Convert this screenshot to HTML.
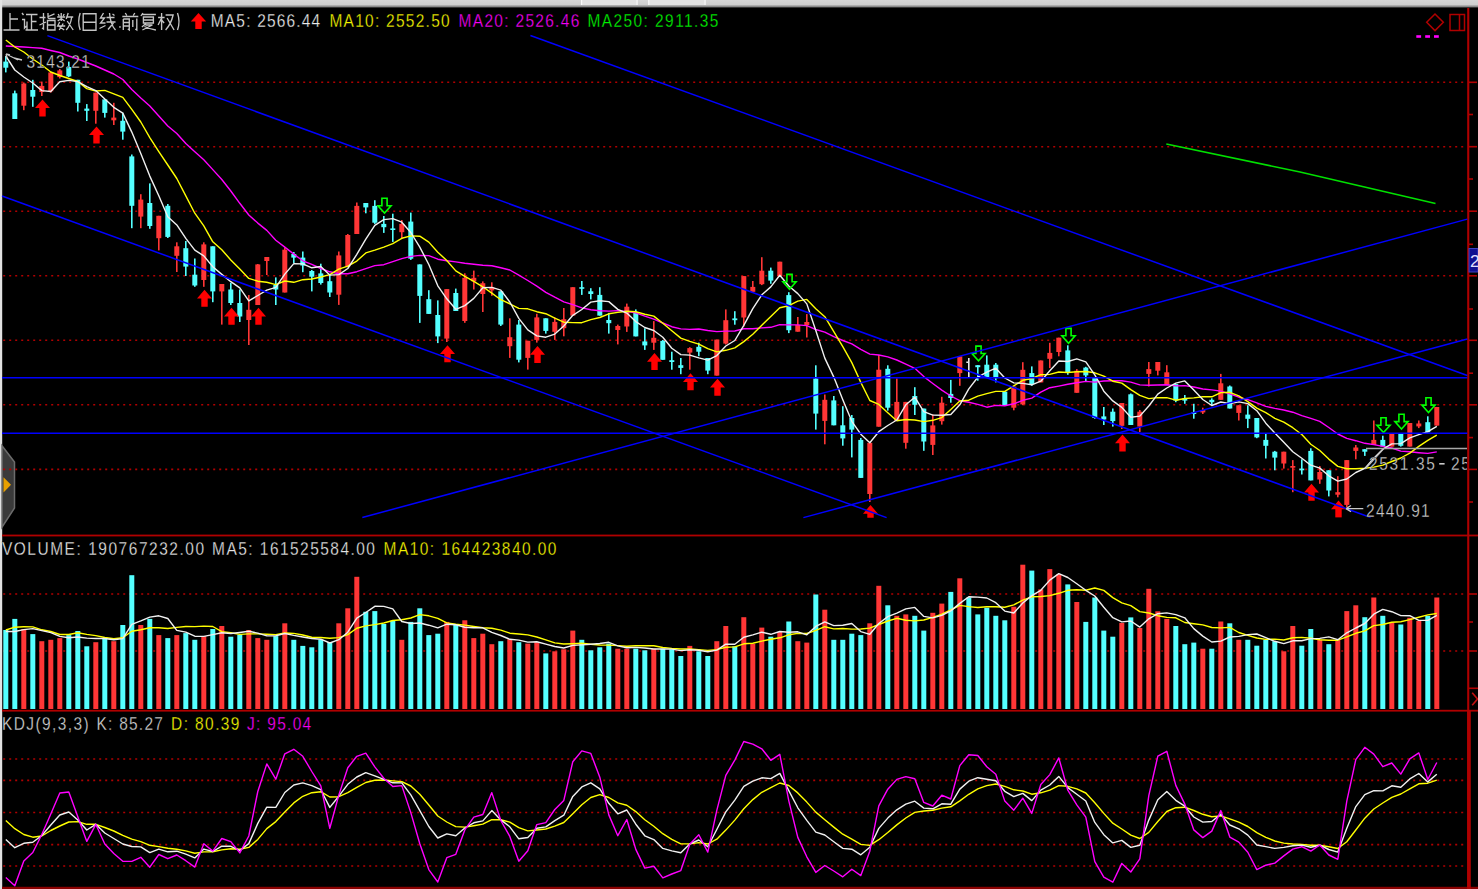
<!DOCTYPE html><html><head><meta charset="utf-8"><style>html,body{margin:0;padding:0;background:#000;overflow:hidden}svg{display:block}text{font-family:"Liberation Sans",sans-serif}</style></head><body>
<svg width="1478" height="889" viewBox="0 0 1478 889">
<rect width="1478" height="889" fill="#000"/>
<defs><linearGradient id="tg" x1="0" y1="0" x2="0" y2="1"><stop offset="0" stop-color="#d6d6d6"/><stop offset="0.6" stop-color="#cfcfcf"/><stop offset="1" stop-color="#6a6a6a"/></linearGradient></defs>
<rect x="0" y="0" width="1478" height="7.5" fill="url(#tg)"/>
<rect x="581.6" y="0" width="55.4" height="5" fill="#e2e2e2"/><rect x="648.7" y="0" width="56.3" height="5" fill="#e2e2e2"/>
<rect x="581" y="0" width="1.2" height="5" fill="#fafafa"/><rect x="636.5" y="0" width="1.2" height="5" fill="#fafafa"/><rect x="648.2" y="0" width="1.2" height="5" fill="#fafafa"/><rect x="704.5" y="0" width="1.2" height="5" fill="#fafafa"/>
<rect x="0" y="0" width="2.2" height="889" fill="#e2e2e2"/>
<path d="M2 445.7 L14.5 462 L14.5 508 L2 527.2 Z" fill="#3a3a3a" stroke="#6c6c6c" stroke-width="1.5"/>
<path d="M3.5 477.2 L11 484.8 L3.5 492.4 Z" fill="#e8a000"/>
<line x1="3.2" y1="82.3" x2="1466" y2="82.3" stroke="#b00000" stroke-width="1.6" stroke-dasharray="2 4" stroke-dashoffset="0"/>
<line x1="3.2" y1="146.7" x2="1466" y2="146.7" stroke="#b00000" stroke-width="1.6" stroke-dasharray="2 4" stroke-dashoffset="0"/>
<line x1="3.2" y1="211.2" x2="1466" y2="211.2" stroke="#b00000" stroke-width="1.6" stroke-dasharray="2 4" stroke-dashoffset="0"/>
<line x1="3.2" y1="275.8" x2="1466" y2="275.8" stroke="#b00000" stroke-width="1.6" stroke-dasharray="2 4" stroke-dashoffset="0"/>
<line x1="3.2" y1="340.3" x2="1466" y2="340.3" stroke="#b00000" stroke-width="1.6" stroke-dasharray="2 4" stroke-dashoffset="0"/>
<line x1="3.2" y1="404.8" x2="1466" y2="404.8" stroke="#b00000" stroke-width="1.6" stroke-dasharray="2 4" stroke-dashoffset="0"/>
<line x1="3.2" y1="469.4" x2="1466" y2="469.4" stroke="#b00000" stroke-width="1.6" stroke-dasharray="2 4" stroke-dashoffset="0"/>
<line x1="3.2" y1="594" x2="1466" y2="594" stroke="#b00000" stroke-width="1.6" stroke-dasharray="2 4" stroke-dashoffset="0"/>
<line x1="3.2" y1="651" x2="1466" y2="651" stroke="#b00000" stroke-width="1.6" stroke-dasharray="2 4" stroke-dashoffset="0"/>
<line x1="3.2" y1="759" x2="1466" y2="759" stroke="#b00000" stroke-width="1.6" stroke-dasharray="2 4" stroke-dashoffset="0"/>
<line x1="3.2" y1="780.4" x2="1466" y2="780.4" stroke="#b00000" stroke-width="1.6" stroke-dasharray="2 4" stroke-dashoffset="0"/>
<line x1="3.2" y1="812.5" x2="1466" y2="812.5" stroke="#b00000" stroke-width="1.6" stroke-dasharray="2 4" stroke-dashoffset="0"/>
<line x1="3.2" y1="844.6" x2="1466" y2="844.6" stroke="#b00000" stroke-width="1.6" stroke-dasharray="2 4" stroke-dashoffset="0"/>
<line x1="3.2" y1="866" x2="1466" y2="866" stroke="#b00000" stroke-width="1.6" stroke-dasharray="2 4" stroke-dashoffset="0"/>
<rect x="2" y="534.6" width="1476" height="1.8" fill="#b00000"/>
<rect x="2" y="709.8" width="1476" height="1.8" fill="#b00000"/>
<rect x="2" y="886.8" width="1476" height="2.2" fill="#8a0000"/>
<rect x="1467.2" y="8" width="2.1" height="881" fill="#b00000"/>
<rect x="1467.2" y="711" width="3.6" height="178" fill="#b00000"/>
<rect x="1469" y="81.5" width="8" height="1.6" fill="#b00000"/>
<rect x="1469" y="145.89999999999998" width="8" height="1.6" fill="#b00000"/>
<rect x="1469" y="210.39999999999998" width="8" height="1.6" fill="#b00000"/>
<rect x="1469" y="275.0" width="8" height="1.6" fill="#b00000"/>
<rect x="1469" y="339.5" width="8" height="1.6" fill="#b00000"/>
<rect x="1469" y="404.0" width="8" height="1.6" fill="#b00000"/>
<rect x="1469" y="468.59999999999997" width="8" height="1.6" fill="#b00000"/>
<rect x="1469" y="113.7" width="4" height="1.6" fill="#b00000"/>
<rect x="1469" y="178.2" width="4" height="1.6" fill="#b00000"/>
<rect x="1469" y="243.5" width="4" height="1.6" fill="#b00000"/>
<rect x="1469" y="308.2" width="4" height="1.6" fill="#b00000"/>
<rect x="1469" y="372.4" width="4" height="1.6" fill="#b00000"/>
<rect x="1469" y="436.8" width="4" height="1.6" fill="#b00000"/>
<rect x="1469" y="501.2" width="4" height="1.6" fill="#b00000"/>
<rect x="1469" y="593.2" width="8" height="1.6" fill="#b00000"/>
<rect x="1469" y="650.2" width="8" height="1.6" fill="#b00000"/>
<rect x="1469" y="621.2" width="4" height="1.6" fill="#b00000"/>
<rect x="1469" y="687.5" width="9" height="1.6" fill="#b00000"/>
<path d="M1472.2 692.7 L1477.5 699 L1472.2 705.3" fill="none" stroke="#c01010" stroke-width="1.6"/>
<rect x="1469" y="248.5" width="9" height="23.5" fill="#101090" stroke="#4040c0" stroke-width="1"/>
<text x="1470" y="267" font-size="17.4" fill="#e0e0ff">2</text>
<rect x="1343" y="455" width="124" height="18" fill="#000"/>
<rect x="5.0" y="56.2" width="1.6" height="16.2" fill="#54ffff"/><rect x="3.3" y="61.6" width="5" height="6.1" fill="#54ffff"/><rect x="14.0" y="90.6" width="1.6" height="28.4" fill="#54ffff"/><rect x="12.3" y="93.3" width="5" height="25.7" fill="#54ffff"/><rect x="23.0" y="82.5" width="1.6" height="27.7" fill="#ff3636"/><rect x="21.3" y="83.5" width="5" height="22.2" fill="#ff3636"/><rect x="32.0" y="79.8" width="1.6" height="27.0" fill="#54ffff"/><rect x="30.3" y="90.0" width="5" height="6.7" fill="#54ffff"/><rect x="41.0" y="81.6" width="1.6" height="14.4" fill="#ff3636"/><rect x="39.3" y="85.9" width="5" height="6.1" fill="#ff3636"/><rect x="50.0" y="72.0" width="1.6" height="20.6" fill="#ff3636"/><rect x="48.3" y="72.4" width="5" height="18.9" fill="#ff3636"/><rect x="59.0" y="69.0" width="1.6" height="9.5" fill="#ff3636"/><rect x="57.3" y="70.4" width="5" height="6.7" fill="#ff3636"/><rect x="68.0" y="61.6" width="1.6" height="15.4" fill="#54ffff"/><rect x="66.3" y="67.0" width="5" height="9.4" fill="#54ffff"/><rect x="77.0" y="79.8" width="1.6" height="31.7" fill="#54ffff"/><rect x="75.3" y="79.8" width="5" height="23.0" fill="#54ffff"/><rect x="86.0" y="104.1" width="1.6" height="16.9" fill="#54ffff"/><rect x="84.3" y="108.6" width="5" height="2.2" fill="#54ffff"/><rect x="95.0" y="92.6" width="1.6" height="31.1" fill="#ff3636"/><rect x="93.3" y="92.6" width="5" height="18.2" fill="#ff3636"/><rect x="104.0" y="99.4" width="1.6" height="18.2" fill="#54ffff"/><rect x="102.3" y="99.4" width="5" height="13.5" fill="#54ffff"/><rect x="113.0" y="102.8" width="1.6" height="22.2" fill="#ff3636"/><rect x="111.3" y="117.6" width="5" height="2.7" fill="#ff3636"/><rect x="122.0" y="112.7" width="1.6" height="27.0" fill="#54ffff"/><rect x="120.3" y="120.8" width="5" height="10.8" fill="#54ffff"/><rect x="131.0" y="154.5" width="1.6" height="73.7" fill="#54ffff"/><rect x="129.3" y="156.4" width="5" height="49.4" fill="#54ffff"/><rect x="140.0" y="194.2" width="1.6" height="34.0" fill="#ff3636"/><rect x="138.3" y="199.6" width="5" height="17.0" fill="#ff3636"/><rect x="149.0" y="183.4" width="1.6" height="45.4" fill="#54ffff"/><rect x="147.3" y="203.0" width="5" height="23.0" fill="#54ffff"/><rect x="158.0" y="215.8" width="1.6" height="34.6" fill="#ff3636"/><rect x="156.3" y="215.8" width="5" height="22.4" fill="#ff3636"/><rect x="167.0" y="204.0" width="1.6" height="34.0" fill="#54ffff"/><rect x="165.3" y="205.8" width="5" height="31.1" fill="#54ffff"/><rect x="176.0" y="242.3" width="1.6" height="29.7" fill="#ff3636"/><rect x="174.3" y="246.3" width="5" height="9.5" fill="#ff3636"/><rect x="185.0" y="241.0" width="1.6" height="35.0" fill="#54ffff"/><rect x="183.3" y="248.2" width="5" height="18.4" fill="#54ffff"/><rect x="194.0" y="258.5" width="1.6" height="28.3" fill="#54ffff"/><rect x="192.3" y="274.7" width="5" height="10.8" fill="#54ffff"/><rect x="203.0" y="242.3" width="1.6" height="44.5" fill="#ff3636"/><rect x="201.3" y="244.4" width="5" height="35.6" fill="#ff3636"/><rect x="212.0" y="246.3" width="1.6" height="55.9" fill="#54ffff"/><rect x="210.3" y="246.3" width="5" height="45.1" fill="#54ffff"/><rect x="221.0" y="284.0" width="1.6" height="40.6" fill="#ff3636"/><rect x="219.3" y="284.0" width="5" height="7.4" fill="#ff3636"/><rect x="230.0" y="282.8" width="1.6" height="22.2" fill="#54ffff"/><rect x="228.3" y="289.5" width="5" height="13.5" fill="#54ffff"/><rect x="239.0" y="289.5" width="1.6" height="32.5" fill="#54ffff"/><rect x="237.3" y="303.0" width="5" height="13.5" fill="#54ffff"/><rect x="248.0" y="295.0" width="1.6" height="50.0" fill="#ff3636"/><rect x="246.3" y="309.8" width="5" height="10.2" fill="#ff3636"/><rect x="257.0" y="264.0" width="1.6" height="41.0" fill="#ff3636"/><rect x="255.3" y="264.4" width="5" height="40.6" fill="#ff3636"/><rect x="266.0" y="257.0" width="1.6" height="18.0" fill="#ff3636"/><rect x="264.3" y="257.0" width="5" height="4.0" fill="#ff3636"/><rect x="275.0" y="277.4" width="1.6" height="27.6" fill="#54ffff"/><rect x="273.3" y="285.0" width="5" height="4.5" fill="#54ffff"/><rect x="284.0" y="247.5" width="1.6" height="45.0" fill="#ff3636"/><rect x="282.3" y="249.7" width="5" height="42.8" fill="#ff3636"/><rect x="293.0" y="252.0" width="1.6" height="11.0" fill="#54ffff"/><rect x="291.3" y="254.0" width="5" height="3.6" fill="#54ffff"/><rect x="302.0" y="251.5" width="1.6" height="20.7" fill="#54ffff"/><rect x="300.3" y="257.6" width="5" height="7.9" fill="#54ffff"/><rect x="311.0" y="270.0" width="1.6" height="21.4" fill="#54ffff"/><rect x="309.3" y="271.0" width="5" height="5.7" fill="#54ffff"/><rect x="320.0" y="263.7" width="1.6" height="20.9" fill="#54ffff"/><rect x="318.3" y="273.4" width="5" height="9.6" fill="#54ffff"/><rect x="329.0" y="274.5" width="1.6" height="22.5" fill="#54ffff"/><rect x="327.3" y="281.2" width="5" height="11.3" fill="#54ffff"/><rect x="338.0" y="251.5" width="1.6" height="53.4" fill="#ff3636"/><rect x="336.3" y="255.4" width="5" height="39.3" fill="#ff3636"/><rect x="347.0" y="234.0" width="1.6" height="32.6" fill="#ff3636"/><rect x="345.3" y="235.0" width="5" height="31.6" fill="#ff3636"/><rect x="356.0" y="202.5" width="1.6" height="31.5" fill="#ff3636"/><rect x="354.3" y="205.9" width="5" height="28.1" fill="#ff3636"/><rect x="365.0" y="203.0" width="1.6" height="10.3" fill="#54ffff"/><rect x="363.3" y="203.0" width="5" height="4.4" fill="#54ffff"/><rect x="374.0" y="200.2" width="1.6" height="23.7" fill="#54ffff"/><rect x="372.3" y="205.9" width="5" height="16.8" fill="#54ffff"/><rect x="383.0" y="216.0" width="1.6" height="16.9" fill="#54ffff"/><rect x="381.3" y="223.9" width="5" height="3.3" fill="#54ffff"/><rect x="392.0" y="213.7" width="1.6" height="28.2" fill="#54ffff"/><rect x="390.3" y="228.4" width="5" height="1.6" fill="#54ffff"/><rect x="401.0" y="220.0" width="1.6" height="18.5" fill="#ff3636"/><rect x="399.3" y="223.9" width="5" height="8.3" fill="#ff3636"/><rect x="410.0" y="212.6" width="1.6" height="47.3" fill="#54ffff"/><rect x="408.3" y="221.6" width="5" height="37.1" fill="#54ffff"/><rect x="419.0" y="264.4" width="1.6" height="58.5" fill="#54ffff"/><rect x="417.3" y="264.4" width="5" height="31.5" fill="#54ffff"/><rect x="428.0" y="290.2" width="1.6" height="23.7" fill="#54ffff"/><rect x="426.3" y="299.2" width="5" height="14.7" fill="#54ffff"/><rect x="437.0" y="300.4" width="1.6" height="42.7" fill="#54ffff"/><rect x="435.3" y="315.0" width="5" height="21.4" fill="#54ffff"/><rect x="446.0" y="289.1" width="1.6" height="52.9" fill="#ff3636"/><rect x="444.3" y="289.1" width="5" height="49.5" fill="#ff3636"/><rect x="455.0" y="288.6" width="1.6" height="22.4" fill="#54ffff"/><rect x="453.3" y="293.0" width="5" height="18.0" fill="#54ffff"/><rect x="464.0" y="273.3" width="1.6" height="49.5" fill="#ff3636"/><rect x="462.3" y="277.8" width="5" height="43.2" fill="#ff3636"/><rect x="473.0" y="270.6" width="1.6" height="18.9" fill="#ff3636"/><rect x="471.3" y="277.8" width="5" height="3.6" fill="#ff3636"/><rect x="482.0" y="281.4" width="1.6" height="30.6" fill="#ff3636"/><rect x="480.3" y="283.2" width="5" height="10.8" fill="#ff3636"/><rect x="491.0" y="282.3" width="1.6" height="13.5" fill="#ff3636"/><rect x="489.3" y="287.2" width="5" height="3.2" fill="#ff3636"/><rect x="500.0" y="291.3" width="1.6" height="34.7" fill="#54ffff"/><rect x="498.3" y="291.3" width="5" height="33.3" fill="#54ffff"/><rect x="509.0" y="318.3" width="1.6" height="39.6" fill="#ff3636"/><rect x="507.3" y="337.2" width="5" height="9.0" fill="#ff3636"/><rect x="518.0" y="320.0" width="1.6" height="42.4" fill="#54ffff"/><rect x="516.3" y="324.6" width="5" height="35.1" fill="#54ffff"/><rect x="527.0" y="340.8" width="1.6" height="28.8" fill="#ff3636"/><rect x="525.3" y="340.8" width="5" height="17.1" fill="#ff3636"/><rect x="536.0" y="313.8" width="1.6" height="28.8" fill="#ff3636"/><rect x="534.3" y="317.4" width="5" height="22.5" fill="#ff3636"/><rect x="545.0" y="318.3" width="1.6" height="15.3" fill="#54ffff"/><rect x="543.3" y="318.3" width="5" height="12.6" fill="#54ffff"/><rect x="554.0" y="317.4" width="1.6" height="22.5" fill="#ff3636"/><rect x="552.3" y="321.9" width="5" height="9.9" fill="#ff3636"/><rect x="563.0" y="308.0" width="1.6" height="28.3" fill="#ff3636"/><rect x="561.3" y="319.2" width="5" height="9.0" fill="#ff3636"/><rect x="572.0" y="287.2" width="1.6" height="28.4" fill="#ff3636"/><rect x="570.3" y="287.2" width="5" height="28.4" fill="#ff3636"/><rect x="581.0" y="281.0" width="1.6" height="13.9" fill="#54ffff"/><rect x="579.3" y="287.2" width="5" height="1.6" fill="#54ffff"/><rect x="590.0" y="288.2" width="1.6" height="11.2" fill="#54ffff"/><rect x="588.3" y="291.3" width="5" height="2.7" fill="#54ffff"/><rect x="599.0" y="287.2" width="1.6" height="28.4" fill="#54ffff"/><rect x="597.3" y="294.9" width="5" height="20.7" fill="#54ffff"/><rect x="608.0" y="312.9" width="1.6" height="20.7" fill="#54ffff"/><rect x="606.3" y="320.0" width="5" height="3.2" fill="#54ffff"/><rect x="617.0" y="324.6" width="1.6" height="19.8" fill="#ff3636"/><rect x="615.3" y="326.0" width="5" height="4.0" fill="#ff3636"/><rect x="626.0" y="303.6" width="1.6" height="28.3" fill="#ff3636"/><rect x="624.3" y="306.7" width="5" height="19.8" fill="#ff3636"/><rect x="635.0" y="309.4" width="1.6" height="27.0" fill="#54ffff"/><rect x="633.3" y="312.1" width="5" height="24.3" fill="#54ffff"/><rect x="644.0" y="328.3" width="1.6" height="21.6" fill="#54ffff"/><rect x="642.3" y="341.4" width="5" height="4.0" fill="#54ffff"/><rect x="653.0" y="321.1" width="1.6" height="28.8" fill="#ff3636"/><rect x="651.3" y="337.8" width="5" height="4.9" fill="#ff3636"/><rect x="662.0" y="340.0" width="1.6" height="19.8" fill="#54ffff"/><rect x="660.3" y="340.9" width="5" height="18.9" fill="#54ffff"/><rect x="671.0" y="351.7" width="1.6" height="18.0" fill="#54ffff"/><rect x="669.3" y="360.2" width="5" height="1.8" fill="#54ffff"/><rect x="680.0" y="358.0" width="1.6" height="16.2" fill="#54ffff"/><rect x="678.3" y="365.2" width="5" height="2.7" fill="#54ffff"/><rect x="689.0" y="347.2" width="1.6" height="22.5" fill="#ff3636"/><rect x="687.3" y="348.1" width="5" height="4.5" fill="#ff3636"/><rect x="698.0" y="342.7" width="1.6" height="13.5" fill="#54ffff"/><rect x="696.3" y="346.8" width="5" height="4.9" fill="#54ffff"/><rect x="707.0" y="358.0" width="1.6" height="16.2" fill="#54ffff"/><rect x="705.3" y="358.0" width="5" height="12.6" fill="#54ffff"/><rect x="716.0" y="339.6" width="1.6" height="36.0" fill="#ff3636"/><rect x="714.3" y="339.6" width="5" height="36.0" fill="#ff3636"/><rect x="725.0" y="309.4" width="1.6" height="35.1" fill="#ff3636"/><rect x="723.3" y="320.2" width="5" height="23.4" fill="#ff3636"/><rect x="734.0" y="311.2" width="1.6" height="13.5" fill="#54ffff"/><rect x="732.3" y="318.4" width="5" height="1.8" fill="#54ffff"/><rect x="743.0" y="276.1" width="1.6" height="50.4" fill="#ff3636"/><rect x="741.3" y="276.1" width="5" height="41.4" fill="#ff3636"/><rect x="752.0" y="281.0" width="1.6" height="10.8" fill="#ff3636"/><rect x="750.3" y="286.9" width="5" height="4.9" fill="#ff3636"/><rect x="761.0" y="257.2" width="1.6" height="27.9" fill="#ff3636"/><rect x="759.3" y="270.7" width="5" height="13.5" fill="#ff3636"/><rect x="770.0" y="267.6" width="1.6" height="16.2" fill="#54ffff"/><rect x="768.3" y="270.7" width="5" height="9.9" fill="#54ffff"/><rect x="779.0" y="261.7" width="1.6" height="14.4" fill="#ff3636"/><rect x="777.3" y="261.7" width="5" height="14.4" fill="#ff3636"/><rect x="788.0" y="292.2" width="1.6" height="40.9" fill="#54ffff"/><rect x="786.3" y="295.1" width="5" height="35.1" fill="#54ffff"/><rect x="797.0" y="317.0" width="1.6" height="14.7" fill="#ff3636"/><rect x="795.3" y="325.0" width="5" height="6.7" fill="#ff3636"/><rect x="806.0" y="314.1" width="1.6" height="23.4" fill="#ff3636"/><rect x="804.3" y="322.0" width="5" height="3.0" fill="#ff3636"/><rect x="815.0" y="365.3" width="1.6" height="64.3" fill="#54ffff"/><rect x="813.3" y="378.5" width="5" height="35.1" fill="#54ffff"/><rect x="824.0" y="394.5" width="1.6" height="49.8" fill="#ff3636"/><rect x="822.3" y="399.8" width="5" height="21.1" fill="#ff3636"/><rect x="833.0" y="396.0" width="1.6" height="29.3" fill="#54ffff"/><rect x="831.3" y="400.4" width="5" height="24.9" fill="#54ffff"/><rect x="842.0" y="406.2" width="1.6" height="39.5" fill="#54ffff"/><rect x="840.3" y="425.3" width="5" height="13.1" fill="#54ffff"/><rect x="851.0" y="415.0" width="1.6" height="42.4" fill="#54ffff"/><rect x="849.3" y="418.0" width="5" height="11.6" fill="#54ffff"/><rect x="860.0" y="438.0" width="1.6" height="39.9" fill="#54ffff"/><rect x="858.3" y="439.9" width="5" height="38.0" fill="#54ffff"/><rect x="869.0" y="442.8" width="1.6" height="59.2" fill="#ff3636"/><rect x="867.3" y="442.8" width="5" height="51.2" fill="#ff3636"/><rect x="878.0" y="355.0" width="1.6" height="71.7" fill="#ff3636"/><rect x="876.3" y="369.7" width="5" height="57.0" fill="#ff3636"/><rect x="887.0" y="365.3" width="1.6" height="45.3" fill="#54ffff"/><rect x="885.3" y="368.8" width="5" height="38.9" fill="#54ffff"/><rect x="896.0" y="378.5" width="1.6" height="42.4" fill="#ff3636"/><rect x="894.3" y="401.9" width="5" height="19.0" fill="#ff3636"/><rect x="905.0" y="401.9" width="1.6" height="46.8" fill="#ff3636"/><rect x="903.3" y="401.9" width="5" height="40.9" fill="#ff3636"/><rect x="914.0" y="387.2" width="1.6" height="27.8" fill="#54ffff"/><rect x="912.3" y="396.0" width="5" height="8.8" fill="#54ffff"/><rect x="923.0" y="408.6" width="1.6" height="42.2" fill="#54ffff"/><rect x="921.3" y="408.6" width="5" height="32.9" fill="#54ffff"/><rect x="932.0" y="414.5" width="1.6" height="40.5" fill="#ff3636"/><rect x="930.3" y="425.4" width="5" height="19.5" fill="#ff3636"/><rect x="941.0" y="396.8" width="1.6" height="27.8" fill="#ff3636"/><rect x="939.3" y="402.7" width="5" height="18.5" fill="#ff3636"/><rect x="950.0" y="379.9" width="1.6" height="22.8" fill="#54ffff"/><rect x="948.3" y="393.9" width="5" height="4.1" fill="#54ffff"/><rect x="959.0" y="356.3" width="1.6" height="29.5" fill="#ff3636"/><rect x="957.3" y="356.3" width="5" height="16.8" fill="#ff3636"/><rect x="968.0" y="358.0" width="1.6" height="19.4" fill="#e8e8e8"/><rect x="966.3" y="361.5" width="2.5" height="1.5" fill="#e8e8e8"/><rect x="977.0" y="365.2" width="1.6" height="15.5" fill="#54ffff"/><rect x="975.3" y="365.2" width="5" height="2.0" fill="#54ffff"/><rect x="986.0" y="355.4" width="1.6" height="22.0" fill="#54ffff"/><rect x="984.3" y="364.7" width="5" height="12.7" fill="#54ffff"/><rect x="995.0" y="363.0" width="1.6" height="19.4" fill="#54ffff"/><rect x="993.3" y="364.7" width="5" height="13.5" fill="#54ffff"/><rect x="1004.0" y="391.0" width="1.6" height="14.2" fill="#54ffff"/><rect x="1002.3" y="391.7" width="5" height="13.5" fill="#54ffff"/><rect x="1013.0" y="386.6" width="1.6" height="23.7" fill="#ff3636"/><rect x="1011.3" y="386.6" width="5" height="21.1" fill="#ff3636"/><rect x="1022.0" y="362.2" width="1.6" height="43.0" fill="#ff3636"/><rect x="1020.3" y="369.8" width="5" height="34.6" fill="#ff3636"/><rect x="1031.0" y="366.4" width="1.6" height="19.4" fill="#54ffff"/><rect x="1029.3" y="373.1" width="5" height="11.0" fill="#54ffff"/><rect x="1040.0" y="360.5" width="1.6" height="21.9" fill="#ff3636"/><rect x="1038.3" y="360.5" width="5" height="21.9" fill="#ff3636"/><rect x="1049.0" y="342.8" width="1.6" height="25.3" fill="#ff3636"/><rect x="1047.3" y="352.9" width="5" height="5.9" fill="#ff3636"/><rect x="1058.0" y="337.7" width="1.6" height="18.6" fill="#ff3636"/><rect x="1056.3" y="337.7" width="5" height="14.3" fill="#ff3636"/><rect x="1067.0" y="345.3" width="1.6" height="29.5" fill="#54ffff"/><rect x="1065.3" y="350.4" width="5" height="21.9" fill="#54ffff"/><rect x="1076.0" y="369.1" width="1.6" height="23.7" fill="#ff3636"/><rect x="1074.3" y="370.7" width="5" height="22.1" fill="#ff3636"/><rect x="1085.0" y="366.8" width="1.6" height="14.9" fill="#54ffff"/><rect x="1083.3" y="367.6" width="5" height="7.8" fill="#54ffff"/><rect x="1094.0" y="377.8" width="1.6" height="40.9" fill="#54ffff"/><rect x="1092.3" y="377.8" width="5" height="40.2" fill="#54ffff"/><rect x="1103.0" y="407.0" width="1.6" height="18.0" fill="#54ffff"/><rect x="1101.3" y="416.4" width="5" height="3.1" fill="#54ffff"/><rect x="1112.0" y="408.5" width="1.6" height="18.1" fill="#54ffff"/><rect x="1110.3" y="411.7" width="5" height="9.4" fill="#54ffff"/><rect x="1121.0" y="403.0" width="1.6" height="26.0" fill="#ff3636"/><rect x="1119.3" y="403.0" width="5" height="22.8" fill="#ff3636"/><rect x="1130.0" y="393.5" width="1.6" height="31.5" fill="#54ffff"/><rect x="1128.3" y="394.3" width="5" height="30.7" fill="#54ffff"/><rect x="1139.0" y="410.0" width="1.6" height="22.0" fill="#ff3636"/><rect x="1137.3" y="411.7" width="5" height="14.9" fill="#ff3636"/><rect x="1148.0" y="362.0" width="1.6" height="24.5" fill="#ff3636"/><rect x="1146.3" y="369.1" width="5" height="4.8" fill="#ff3636"/><rect x="1157.0" y="362.0" width="1.6" height="13.4" fill="#ff3636"/><rect x="1155.3" y="362.0" width="5" height="8.7" fill="#ff3636"/><rect x="1166.0" y="365.2" width="1.6" height="19.7" fill="#ff3636"/><rect x="1164.3" y="372.3" width="5" height="12.6" fill="#ff3636"/><rect x="1175.0" y="384.1" width="1.6" height="18.1" fill="#54ffff"/><rect x="1173.3" y="384.1" width="5" height="16.5" fill="#54ffff"/><rect x="1184.0" y="395.0" width="1.6" height="8.8" fill="#54ffff"/><rect x="1182.3" y="398.3" width="5" height="2.3" fill="#54ffff"/><rect x="1193.0" y="403.8" width="1.6" height="14.9" fill="#54ffff"/><rect x="1191.3" y="412.4" width="5" height="1.6" fill="#54ffff"/><rect x="1202.0" y="407.7" width="1.6" height="6.3" fill="#ff3636"/><rect x="1200.3" y="410.0" width="5" height="2.4" fill="#ff3636"/><rect x="1211.0" y="398.3" width="1.6" height="7.8" fill="#54ffff"/><rect x="1209.3" y="399.8" width="5" height="2.4" fill="#54ffff"/><rect x="1220.0" y="373.9" width="1.6" height="25.9" fill="#ff3636"/><rect x="1218.3" y="383.3" width="5" height="16.5" fill="#ff3636"/><rect x="1229.0" y="385.5" width="1.6" height="23.0" fill="#54ffff"/><rect x="1227.3" y="386.5" width="5" height="22.0" fill="#54ffff"/><rect x="1238.0" y="405.3" width="1.6" height="15.2" fill="#ff3636"/><rect x="1236.3" y="405.3" width="5" height="7.6" fill="#ff3636"/><rect x="1247.0" y="405.3" width="1.6" height="22.8" fill="#54ffff"/><rect x="1245.3" y="414.6" width="5" height="4.2" fill="#54ffff"/><rect x="1256.0" y="418.0" width="1.6" height="20.2" fill="#54ffff"/><rect x="1254.3" y="418.0" width="5" height="19.4" fill="#54ffff"/><rect x="1265.0" y="434.0" width="1.6" height="24.5" fill="#54ffff"/><rect x="1263.3" y="439.9" width="5" height="5.9" fill="#54ffff"/><rect x="1274.0" y="450.9" width="1.6" height="19.4" fill="#54ffff"/><rect x="1272.3" y="451.7" width="5" height="5.9" fill="#54ffff"/><rect x="1283.0" y="451.7" width="1.6" height="16.9" fill="#ff3636"/><rect x="1281.3" y="451.7" width="5" height="11.8" fill="#ff3636"/><rect x="1292.0" y="460.1" width="1.6" height="32.1" fill="#ff3636"/><rect x="1290.3" y="466.0" width="5" height="1.7" fill="#ff3636"/><rect x="1301.0" y="459.3" width="1.6" height="15.2" fill="#54ffff"/><rect x="1299.3" y="468.6" width="5" height="1.7" fill="#54ffff"/><rect x="1310.0" y="448.3" width="1.6" height="32.1" fill="#54ffff"/><rect x="1308.3" y="450.9" width="5" height="29.5" fill="#54ffff"/><rect x="1319.0" y="466.0" width="1.6" height="17.8" fill="#ff3636"/><rect x="1317.3" y="472.0" width="5" height="7.5" fill="#ff3636"/><rect x="1328.0" y="470.3" width="1.6" height="26.1" fill="#54ffff"/><rect x="1326.3" y="470.3" width="5" height="20.2" fill="#54ffff"/><rect x="1337.0" y="476.2" width="1.6" height="21.1" fill="#ff3636"/><rect x="1335.3" y="492.2" width="5" height="2.5" fill="#ff3636"/><rect x="1346.0" y="460.1" width="1.6" height="46.9" fill="#ff3636"/><rect x="1344.3" y="460.1" width="5" height="44.8" fill="#ff3636"/><rect x="1355.0" y="445.0" width="1.6" height="14.3" fill="#ff3636"/><rect x="1353.3" y="447.5" width="5" height="3.4" fill="#ff3636"/><rect x="1364.0" y="449.2" width="1.6" height="6.7" fill="#54ffff"/><rect x="1362.3" y="449.2" width="5" height="2.5" fill="#54ffff"/><rect x="1373.0" y="420.5" width="1.6" height="24.5" fill="#ff3636"/><rect x="1371.3" y="439.9" width="5" height="5.1" fill="#ff3636"/><rect x="1382.0" y="435.7" width="1.6" height="10.9" fill="#54ffff"/><rect x="1380.3" y="439.9" width="5" height="6.7" fill="#54ffff"/><rect x="1391.0" y="434.0" width="1.6" height="12.6" fill="#ff3636"/><rect x="1389.3" y="434.0" width="5" height="12.6" fill="#ff3636"/><rect x="1400.0" y="434.0" width="1.6" height="12.6" fill="#54ffff"/><rect x="1398.3" y="434.0" width="5" height="11.8" fill="#54ffff"/><rect x="1409.0" y="423.0" width="1.6" height="23.6" fill="#ff3636"/><rect x="1407.3" y="423.0" width="5" height="23.6" fill="#ff3636"/><rect x="1418.0" y="420.5" width="1.6" height="7.6" fill="#ff3636"/><rect x="1416.3" y="423.5" width="5" height="2.9" fill="#ff3636"/><rect x="1427.0" y="416.3" width="1.6" height="16.0" fill="#54ffff"/><rect x="1425.3" y="422.2" width="5" height="10.1" fill="#54ffff"/><rect x="1436.0" y="407.0" width="1.6" height="18.6" fill="#ff3636"/><rect x="1434.3" y="407.0" width="5" height="18.6" fill="#ff3636"/>
<polyline points="5.8,46.0 14.8,46.5 23.8,47.0 32.8,47.6 41.8,48.3 50.8,50.5 59.8,52.5 68.8,56.0 77.8,59.0 86.8,62.5 95.8,66.0 104.8,70.0 113.8,74.0 122.8,79.5 131.8,89.5 140.8,98.0 149.8,106.0 158.8,116.0 167.8,126.0 176.8,133.5 185.8,143.5 194.8,151.8 203.8,159.8 212.8,169.6 221.8,179.5 230.8,191.0 239.8,203.3 248.8,215.0 257.8,223.1 266.8,230.4 275.8,240.2 284.8,247.1 293.8,254.1 302.8,260.8 311.8,264.3 320.8,268.5 329.8,271.8 338.8,273.8 347.8,273.7 356.8,271.7 365.8,268.7 374.8,265.6 383.8,264.7 392.8,261.6 401.8,258.6 410.8,256.4 419.8,255.4 428.8,255.6 437.8,259.2 446.8,260.8 455.8,261.9 464.8,263.3 473.8,264.3 482.8,265.2 491.8,265.7 500.8,267.8 509.8,270.0 518.8,275.2 527.8,280.5 536.8,286.1 545.8,292.3 554.8,297.2 563.8,301.8 572.8,304.7 581.8,307.9 590.8,309.7 599.8,310.7 608.8,311.1 617.8,310.6 626.8,311.5 635.8,312.8 644.8,316.1 653.8,319.1 662.8,323.0 671.8,326.7 680.8,328.9 689.8,329.4 698.8,329.0 707.8,330.5 716.8,331.6 725.8,331.1 734.8,331.0 743.8,328.8 752.8,328.8 761.8,327.9 770.8,327.3 779.8,324.6 788.8,324.9 797.8,324.9 806.8,325.6 815.8,329.5 824.8,332.2 833.8,336.6 842.8,340.5 851.8,343.9 860.8,349.4 869.8,354.1 878.8,355.0 887.8,356.9 896.8,360.0 905.8,364.1 914.8,368.3 923.8,376.6 932.8,383.5 941.8,390.1 950.8,396.0 959.8,400.7 968.8,402.3 977.8,404.4 986.8,407.2 995.8,405.4 1004.8,405.7 1013.8,403.8 1022.8,400.3 1031.8,398.1 1040.8,392.2 1049.8,387.7 1058.8,386.1 1067.8,384.3 1076.8,382.8 1085.8,381.4 1094.8,382.1 1103.8,381.0 1112.8,380.8 1121.8,380.8 1130.8,382.1 1139.8,384.9 1148.8,385.3 1157.8,385.0 1166.8,384.8 1175.8,385.9 1184.8,385.6 1193.8,387.0 1202.8,389.0 1211.8,389.9 1220.8,391.1 1229.8,393.9 1238.8,397.2 1247.8,399.6 1256.8,402.9 1265.8,406.4 1274.8,408.4 1283.8,410.0 1292.8,412.2 1301.8,415.6 1310.8,418.4 1319.8,421.4 1328.8,427.5 1337.8,434.0 1346.8,438.4 1355.8,440.7 1364.8,443.3 1373.8,444.6 1382.8,446.4 1391.8,448.0 1400.8,451.1 1409.8,451.8 1418.8,452.7 1427.8,453.4 1436.8,451.9" fill="none" stroke="#ff00ff" stroke-width="1.4" stroke-linejoin="round"/>
<polyline points="5.8,40.0 14.8,47.0 23.8,52.0 32.8,59.0 41.8,65.0 50.8,72.0 59.8,75.5 68.8,78.5 77.8,81.5 86.8,88.6 95.8,91.0 104.8,90.4 113.8,93.8 122.8,97.3 131.8,109.3 140.8,122.0 149.8,137.6 158.8,151.6 167.8,165.0 176.8,178.5 185.8,195.9 194.8,213.2 203.8,225.8 212.8,241.8 221.8,249.7 230.8,260.0 239.8,269.0 248.8,278.4 257.8,281.2 266.8,282.3 275.8,284.6 284.8,281.0 293.8,282.3 302.8,279.7 311.8,279.0 320.8,277.0 329.8,274.6 338.8,269.1 347.8,266.2 356.8,261.1 365.8,252.9 374.8,250.2 383.8,247.1 392.8,243.6 401.8,238.3 410.8,235.9 419.8,236.2 428.8,242.1 437.8,252.2 446.8,260.5 455.8,270.9 464.8,276.4 473.8,281.4 482.8,286.8 491.8,293.1 500.8,299.7 509.8,303.8 518.8,308.4 527.8,308.8 536.8,311.7 545.8,313.7 554.8,318.1 563.8,322.2 572.8,322.6 581.8,322.7 590.8,319.6 599.8,317.5 608.8,313.8 617.8,312.4 626.8,311.3 635.8,311.8 644.8,314.2 653.8,316.1 662.8,323.3 671.8,330.7 680.8,338.1 689.8,341.3 698.8,344.2 707.8,348.6 716.8,351.9 725.8,350.3 734.8,347.8 743.8,341.6 752.8,334.3 761.8,325.2 770.8,316.5 779.8,307.8 788.8,305.7 797.8,301.1 806.8,299.4 815.8,308.7 824.8,316.7 833.8,331.6 842.8,346.7 851.8,362.6 860.8,382.4 869.8,400.5 878.8,404.4 887.8,412.7 896.8,420.7 905.8,419.5 914.8,420.0 923.8,421.6 932.8,420.3 941.8,417.6 950.8,409.6 959.8,401.0 968.8,400.2 977.8,396.2 986.8,393.7 995.8,391.4 1004.8,391.4 1013.8,385.9 1022.8,380.3 1031.8,378.5 1040.8,374.7 1049.8,374.4 1058.8,372.0 1067.8,372.5 1076.8,371.8 1085.8,371.5 1094.8,372.8 1103.8,376.1 1112.8,381.2 1121.8,383.1 1130.8,389.6 1139.8,395.4 1148.8,398.6 1157.8,397.6 1166.8,397.7 1175.8,400.2 1184.8,398.5 1193.8,397.9 1202.8,396.8 1211.8,396.8 1220.8,392.6 1229.8,392.3 1238.8,395.9 1247.8,401.6 1256.8,408.1 1265.8,412.6 1274.8,418.3 1283.8,422.1 1292.8,427.7 1301.8,434.5 1310.8,444.2 1319.8,450.5 1328.8,459.1 1337.8,466.4 1346.8,468.7 1355.8,468.8 1364.8,468.2 1373.8,467.1 1382.8,465.1 1391.8,461.5 1400.8,458.0 1409.8,453.1 1418.8,446.4 1427.8,440.4 1436.8,435.1" fill="none" stroke="#ffff00" stroke-width="1.4" stroke-linejoin="round"/>
<polyline points="5.8,56.0 14.8,70.0 23.8,77.0 32.8,83.0 41.8,90.6 50.8,91.5 59.8,81.8 68.8,80.4 77.8,81.6 86.8,86.6 95.8,90.6 104.8,99.1 113.8,107.3 122.8,113.1 131.8,132.1 140.8,153.5 149.8,176.1 158.8,195.8 167.8,216.8 176.8,224.9 185.8,238.3 194.8,250.2 203.8,255.9 212.8,266.8 221.8,274.4 230.8,281.7 239.8,287.9 248.8,300.9 257.8,295.5 266.8,290.1 275.8,287.4 284.8,274.1 293.8,263.6 302.8,263.9 311.8,267.8 320.8,266.5 329.8,275.1 338.8,274.6 347.8,268.5 356.8,254.4 365.8,239.2 374.8,225.3 383.8,219.6 392.8,218.6 401.8,222.2 410.8,232.5 419.8,247.1 428.8,264.5 437.8,285.8 446.8,298.8 455.8,309.3 464.8,305.6 473.8,298.4 482.8,287.8 491.8,287.4 500.8,290.1 509.8,302.0 518.8,318.4 527.8,329.9 536.8,335.9 545.8,337.2 554.8,334.1 563.8,326.0 572.8,315.3 581.8,309.5 590.8,302.1 599.8,300.8 608.8,301.6 617.8,309.4 626.8,313.1 635.8,321.6 644.8,327.5 653.8,330.5 662.8,337.2 671.8,348.3 680.8,354.6 689.8,355.1 698.8,357.9 707.8,360.1 716.8,355.6 725.8,346.0 734.8,340.5 743.8,325.3 752.8,308.6 761.8,294.8 770.8,286.9 779.8,275.2 788.8,286.0 797.8,293.6 806.8,303.9 815.8,330.5 824.8,358.1 833.8,377.1 842.8,399.8 851.8,421.3 860.8,434.2 869.8,442.8 878.8,431.7 887.8,425.5 896.8,420.0 905.8,404.8 914.8,397.2 923.8,411.6 932.8,415.1 941.8,415.3 950.8,414.5 959.8,404.8 968.8,388.9 977.8,377.2 986.8,372.2 995.8,368.2 1004.8,378.0 1013.8,382.9 1022.8,383.4 1031.8,384.8 1040.8,381.2 1049.8,370.8 1058.8,361.0 1067.8,361.5 1076.8,358.8 1085.8,361.8 1094.8,374.8 1103.8,391.2 1112.8,400.9 1121.8,407.4 1130.8,417.3 1139.8,416.1 1148.8,406.0 1157.8,394.2 1166.8,388.0 1175.8,383.1 1184.8,380.9 1193.8,389.9 1202.8,399.5 1211.8,405.5 1220.8,402.0 1229.8,403.6 1238.8,401.9 1247.8,403.6 1256.8,410.7 1265.8,423.2 1274.8,433.0 1283.8,442.3 1292.8,451.7 1301.8,458.3 1310.8,465.2 1319.8,468.1 1328.8,475.8 1337.8,481.1 1346.8,479.0 1355.8,472.5 1364.8,468.4 1373.8,458.3 1382.8,449.2 1391.8,443.9 1400.8,443.6 1409.8,437.9 1418.8,434.6 1427.8,431.7 1436.8,426.3" fill="none" stroke="#f0f0f0" stroke-width="1.4" stroke-linejoin="round"/>
<polyline points="1166.3,144 1300,172 1435.5,203.5" fill="none" stroke="#00e000" stroke-width="1.6"/>
<defs><clipPath id="ca"><rect x="0" y="0" width="1467" height="517.8"/></clipPath></defs><g clip-path="url(#ca)"><path d="M42.5 99.4 L50.0 108.10000000000001 L45.7 108.10000000000001 L45.7 116.4 L39.3 116.4 L39.3 108.10000000000001 L35.0 108.10000000000001 Z" fill="#ff0000"/><path d="M96.5 126.4 L104.0 135.1 L99.7 135.1 L99.7 143.4 L93.3 143.4 L93.3 135.1 L89.0 135.1 Z" fill="#ff0000"/><path d="M204.5 289.8 L212.0 298.5 L207.7 298.5 L207.7 306.8 L201.3 306.8 L201.3 298.5 L197.0 298.5 Z" fill="#ff0000"/><path d="M231.5 307.8 L239.0 316.5 L234.7 316.5 L234.7 324.8 L228.3 324.8 L228.3 316.5 L224.0 316.5 Z" fill="#ff0000"/><path d="M258.5 307.8 L266.0 316.5 L261.7 316.5 L261.7 324.8 L255.3 324.8 L255.3 316.5 L251.0 316.5 Z" fill="#ff0000"/><path d="M447.5 345.3 L455.0 354.0 L450.7 354.0 L450.7 362.3 L444.3 362.3 L444.3 354.0 L440.0 354.0 Z" fill="#ff0000"/><path d="M537.5 346 L545.0 354.7 L540.7 354.7 L540.7 363 L534.3 363 L534.3 354.7 L530.0 354.7 Z" fill="#ff0000"/><path d="M654.5 353 L662.0 361.7 L657.7 361.7 L657.7 370 L651.3 370 L651.3 361.7 L647.0 361.7 Z" fill="#ff0000"/><path d="M690.5 373.3 L698.0 382.0 L693.7 382.0 L693.7 390.3 L687.3 390.3 L687.3 382.0 L683.0 382.0 Z" fill="#ff0000"/><path d="M717.5 378.7 L725.0 387.4 L720.7 387.4 L720.7 395.7 L714.3 395.7 L714.3 387.4 L710.0 387.4 Z" fill="#ff0000"/><path d="M870.5 505 L878.0 513.7 L873.7 513.7 L873.7 522 L867.3 522 L867.3 513.7 L863.0 513.7 Z" fill="#ff0000"/><path d="M1122.5 434.5 L1130.0 443.2 L1125.7 443.2 L1125.7 451.5 L1119.3 451.5 L1119.3 443.2 L1115.0 443.2 Z" fill="#ff0000"/><path d="M1311.5 483.8 L1319.0 492.5 L1314.7 492.5 L1314.7 500.8 L1308.3 500.8 L1308.3 492.5 L1304.0 492.5 Z" fill="#ff0000"/><path d="M1338.5 500.6 L1346.0 509.3 L1341.7 509.3 L1341.7 517.6 L1335.3 517.6 L1335.3 509.3 L1331.0 509.3 Z" fill="#ff0000"/><path d="M381.9 198.3 L387.1 198.3 L387.1 205.7 L391.1 205.7 L384.5 213.1 L377.9 205.7 L381.9 205.7 Z" fill="none" stroke="#00ff00" stroke-width="1.6"/><path d="M786.9 274.40000000000003 L792.1 274.40000000000003 L792.1 281.8 L796.1 281.8 L789.5 289.20000000000005 L782.9 281.8 L786.9 281.8 Z" fill="none" stroke="#00ff00" stroke-width="1.6"/><path d="M975.9 346.1 L981.1 346.1 L981.1 353.5 L985.1 353.5 L978.5 360.90000000000003 L971.9 353.5 L975.9 353.5 Z" fill="none" stroke="#00ff00" stroke-width="1.6"/><path d="M1065.9 328.40000000000003 L1071.1 328.40000000000003 L1071.1 335.8 L1075.1 335.8 L1068.5 343.20000000000005 L1061.9 335.8 L1065.9 335.8 Z" fill="none" stroke="#00ff00" stroke-width="1.6"/><path d="M1380.9 417.8 L1386.1 417.8 L1386.1 425.2 L1390.1 425.2 L1383.5 432.6 L1376.9 425.2 L1380.9 425.2 Z" fill="none" stroke="#00ff00" stroke-width="1.6"/><path d="M1398.9 414.2 L1404.1 414.2 L1404.1 421.59999999999997 L1408.1 421.59999999999997 L1401.5 429.0 L1394.9 421.59999999999997 L1398.9 421.59999999999997 Z" fill="none" stroke="#00ff00" stroke-width="1.6"/><path d="M1425.9 397.7 L1431.1 397.7 L1431.1 405.09999999999997 L1435.1 405.09999999999997 L1428.5 412.5 L1421.9 405.09999999999997 L1425.9 405.09999999999997 Z" fill="none" stroke="#00ff00" stroke-width="1.6"/></g>
<line x1="2" y1="196" x2="886.6" y2="517.6" stroke="#0000ff" stroke-width="1.5"/><line x1="47.4" y1="35.6" x2="1370.6" y2="517.5" stroke="#0000ff" stroke-width="1.5"/><line x1="530.4" y1="35.5" x2="1467.3" y2="375.5" stroke="#0000ff" stroke-width="1.5"/><line x1="362.3" y1="517.5" x2="1467.3" y2="219.1" stroke="#0000ff" stroke-width="1.5"/><line x1="803.4" y1="517.6" x2="1467.3" y2="339" stroke="#0000ff" stroke-width="1.5"/><line x1="2" y1="377.7" x2="1467.3" y2="377.7" stroke="#0000ff" stroke-width="1.5"/><line x1="2" y1="433.3" x2="1467.3" y2="433.3" stroke="#0000ff" stroke-width="1.5"/>
<text transform="translate(26.5,68) scale(0.86,1)" x="0" y="0" font-size="18" fill="#c8c8c8" stroke="#000" stroke-width="0.25" textLength="73.6" lengthAdjust="spacing">3143.21</text>
<path d="M6 54 L10 55 M6 54 L7 58 M6 54 L18 60 M14 58 L22 60" stroke="#c8c8c8" stroke-width="1.3" fill="none"/>
<text transform="translate(1366.1,516.6) scale(0.86,1)" x="0" y="0" font-size="18" fill="#c8c8c8" stroke="#000" stroke-width="0.25" textLength="74.0" lengthAdjust="spacing">2440.91</text>
<path d="M1346 508.6 L1363.3 508.6 M1346 508.6 L1351 505.5 M1346 508.6 L1351 511.7" stroke="#c8c8c8" stroke-width="1.3" fill="none"/>
<line x1="1366" y1="448.4" x2="1467" y2="448.4" stroke="#a8a8a8" stroke-width="1.5"/>
<line x1="1365.2" y1="469" x2="1384" y2="448.4" stroke="#b8b8b8" stroke-width="1.3"/>
<text transform="translate(1369.0,470.3) scale(0.86,1)" x="0" y="0" font-size="18" fill="#c8c8c8" stroke="#000" stroke-width="0.25" textLength="76.5" lengthAdjust="spacing">2531.35</text>
<rect x="1439.2" y="463" width="5.4" height="1.6" fill="#c8c8c8"/>
<svg x="0" y="0" width="1467" height="889" overflow="hidden"><text transform="translate(1451.1,470.3) scale(0.86,1)" x="0" y="0" font-size="18" fill="#c8c8c8" stroke="#000" stroke-width="0.25" textLength="76.5" lengthAdjust="spacing">2531.35</text></svg>
<path d="M1435 14 L1443.3 22.3 L1435 30.6 L1426.7 22.3 Z" fill="none" stroke="#b00000" stroke-width="1.5"/>
<rect x="1450" y="14.5" width="14.5" height="16" fill="none" stroke="#b00000" stroke-width="1.5"/>
<line x1="1459.5" y1="14.5" x2="1459.5" y2="30.5" stroke="#b00000" stroke-width="1.5"/>
<rect x="1416.3" y="35.2" width="4.8" height="2.6" fill="#ff00ff"/><rect x="1425.2" y="35.2" width="4.8" height="2.6" fill="#ff00ff"/><rect x="1434" y="35.2" width="4.8" height="2.6" fill="#ff00ff"/>
<text transform="translate(210.8,27.4) scale(0.86,1)" x="0" y="0" font-size="18" fill="#ececec" stroke="#000" stroke-width="0.25" textLength="127.2" lengthAdjust="spacing">MA5: 2566.44</text>
<text transform="translate(329.4,27.4) scale(0.86,1)" x="0" y="0" font-size="18" fill="#f4f400" stroke="#000" stroke-width="0.25" textLength="139.8" lengthAdjust="spacing">MA10: 2552.50</text>
<text transform="translate(458.6,27.4) scale(0.86,1)" x="0" y="0" font-size="18" fill="#f400f4" stroke="#000" stroke-width="0.25" textLength="140.3" lengthAdjust="spacing">MA20: 2526.46</text>
<text transform="translate(587.4,27.4) scale(0.86,1)" x="0" y="0" font-size="18" fill="#00f000" stroke="#000" stroke-width="0.25" textLength="152.4" lengthAdjust="spacing">MA250: 2911.35</text>
<path d="M198.5 13 L206.2 21.5 L201.7 21.5 L201.7 29 L195.3 29 L195.3 21.5 L190.8 21.5 Z" fill="#ff0000"/>
<path transform="translate(3.5,13)" d="M6.5 0 V17 M6.5 6 H14.5 M0 17 H16" fill="none" stroke="#c4c4c4" stroke-width="1.35"/><path transform="translate(21.5,13)" d="M0.5 0 L2 2 M0.5 6.5 H3 V15 L5 13 M4.5 1.5 H16 M10 1.5 V17 M10 8.5 H15 M5.5 8.5 V17 M4 17 H16.5" fill="none" stroke="#c4c4c4" stroke-width="1.35"/><path transform="translate(39.5,13)" d="M0 4.5 H6 M4 0 V16 L2.5 15 M0 12 L6.5 9 M8.5 0 V4.5 Q8.5 5.5 10 5.5 H16 M15 0.8 L9 3.5 M8 7.5 H15.5 V17 H8 Z M8 12 H15.5" fill="none" stroke="#c4c4c4" stroke-width="1.35"/><path transform="translate(57.2,13)" d="M0 4 H8 M4 0 V8 M1 1 L2 3 M7 1 L6 3 M0.5 8 L4 5.5 L7.5 8 M2.5 9 L0.5 13 H8 M6 10.5 L2 17 M1.5 13 L7 17 M11 0 L9 6 M9.5 4 H16 M14.5 4 Q13.5 12 9 17 M10 8 L16 17" fill="none" stroke="#c4c4c4" stroke-width="1.35"/><path transform="translate(77.2,13)" d="M3 0 Q0 8.5 3 17" fill="none" stroke="#c4c4c4" stroke-width="1.35"/><path transform="translate(83.2,13)" d="M0 0.7 H12.8 V17.2 H0 Z M0 9.2 H12.8" fill="none" stroke="#c4c4c4" stroke-width="1.35"/><path transform="translate(99.5,13)" d="M4 0 L1 5 L5 5 L1 10 H6 M0 15.5 L6 12.5 M7 4.5 H15 M7 9 H16 M10 0 Q11 12 16 17 M13 1 L15 2.5 M8.5 16.5 L14 10" fill="none" stroke="#c4c4c4" stroke-width="1.35"/><path transform="translate(122.3,13)" d="M3 0 L4.5 2.5 M12.5 0 L11 2.5 M0 3.5 H16 M1 6 H7 V17 L5.5 16 M1 6 V17 M1 9.5 H7 M1 13 H7 M10.5 7 V14 M14.5 5.5 V17 L13 16" fill="none" stroke="#c4c4c4" stroke-width="1.35"/><path transform="translate(140.4,13)" d="M2.5 0 L0.5 3 M2 1.5 H15.5 M3 4 H13 V10 H3 Z M3 7 H13 M5.5 10.5 L1.5 14 M5 12 H12 L2 17 M4 13.5 Q9 16 15.5 17" fill="none" stroke="#c4c4c4" stroke-width="1.35"/><path transform="translate(158.1,13)" d="M0 4.5 H6.5 M3.5 0 V17 M3.5 5 L0 12 M3.5 7 L6 10 M7.5 2 H15 Q13 11 7.5 17 M9 5 L16 17" fill="none" stroke="#c4c4c4" stroke-width="1.35"/><path transform="translate(176.0,13)" d="M1.5 0 Q4.5 8.5 1.5 17" fill="none" stroke="#c4c4c4" stroke-width="1.35"/>
<rect x="119.2" y="26.2" width="1.5" height="1.5" fill="#c4c4c4"/>
<rect x="3.3" y="630.0" width="5" height="79.0" fill="#54ffff"/><rect x="12.3" y="618.9" width="5" height="90.1" fill="#54ffff"/><rect x="21.3" y="629.0" width="5" height="80.0" fill="#ff3636"/><rect x="30.3" y="634.1" width="5" height="74.9" fill="#54ffff"/><rect x="39.3" y="641.2" width="5" height="67.8" fill="#ff3636"/><rect x="48.3" y="639.8" width="5" height="69.2" fill="#ff3636"/><rect x="57.3" y="638.1" width="5" height="70.9" fill="#ff3636"/><rect x="66.3" y="635.1" width="5" height="73.9" fill="#54ffff"/><rect x="75.3" y="631.0" width="5" height="78.0" fill="#54ffff"/><rect x="84.3" y="646.3" width="5" height="62.7" fill="#54ffff"/><rect x="93.3" y="642.2" width="5" height="66.8" fill="#ff3636"/><rect x="102.3" y="638.1" width="5" height="70.9" fill="#54ffff"/><rect x="111.3" y="641.2" width="5" height="67.8" fill="#ff3636"/><rect x="120.3" y="625.0" width="5" height="84.0" fill="#54ffff"/><rect x="129.3" y="575.2" width="5" height="133.8" fill="#54ffff"/><rect x="138.3" y="625.0" width="5" height="84.0" fill="#ff3636"/><rect x="147.3" y="618.9" width="5" height="90.1" fill="#54ffff"/><rect x="156.3" y="635.1" width="5" height="73.9" fill="#ff3636"/><rect x="165.3" y="638.1" width="5" height="70.9" fill="#54ffff"/><rect x="174.3" y="635.1" width="5" height="73.9" fill="#ff3636"/><rect x="183.3" y="633.1" width="5" height="75.9" fill="#54ffff"/><rect x="192.3" y="639.8" width="5" height="69.2" fill="#54ffff"/><rect x="201.3" y="636.1" width="5" height="72.9" fill="#ff3636"/><rect x="210.3" y="629.0" width="5" height="80.0" fill="#54ffff"/><rect x="219.3" y="626.0" width="5" height="83.0" fill="#ff3636"/><rect x="228.3" y="636.7" width="5" height="72.3" fill="#54ffff"/><rect x="237.3" y="634.7" width="5" height="74.3" fill="#54ffff"/><rect x="246.3" y="630.0" width="5" height="79.0" fill="#ff3636"/><rect x="255.3" y="638.1" width="5" height="70.9" fill="#ff3636"/><rect x="264.3" y="639.8" width="5" height="69.2" fill="#ff3636"/><rect x="273.3" y="636.1" width="5" height="72.9" fill="#54ffff"/><rect x="282.3" y="623.3" width="5" height="85.7" fill="#ff3636"/><rect x="291.3" y="639.8" width="5" height="69.2" fill="#54ffff"/><rect x="300.3" y="645.9" width="5" height="63.1" fill="#54ffff"/><rect x="309.3" y="647.3" width="5" height="61.7" fill="#54ffff"/><rect x="318.3" y="639.8" width="5" height="69.2" fill="#54ffff"/><rect x="327.3" y="642.2" width="5" height="66.8" fill="#54ffff"/><rect x="336.3" y="623.3" width="5" height="85.7" fill="#ff3636"/><rect x="345.3" y="608.3" width="5" height="100.7" fill="#ff3636"/><rect x="354.3" y="576.8" width="5" height="132.2" fill="#ff3636"/><rect x="363.3" y="611.8" width="5" height="97.2" fill="#54ffff"/><rect x="372.3" y="611.1" width="5" height="97.9" fill="#54ffff"/><rect x="381.3" y="624.0" width="5" height="85.0" fill="#54ffff"/><rect x="390.3" y="620.9" width="5" height="88.1" fill="#54ffff"/><rect x="399.3" y="639.8" width="5" height="69.2" fill="#ff3636"/><rect x="408.3" y="621.9" width="5" height="87.1" fill="#54ffff"/><rect x="417.3" y="608.3" width="5" height="100.7" fill="#54ffff"/><rect x="426.3" y="635.1" width="5" height="73.9" fill="#54ffff"/><rect x="435.3" y="633.7" width="5" height="75.3" fill="#54ffff"/><rect x="444.3" y="621.9" width="5" height="87.1" fill="#ff3636"/><rect x="453.3" y="625.0" width="5" height="84.0" fill="#54ffff"/><rect x="462.3" y="620.3" width="5" height="88.7" fill="#ff3636"/><rect x="471.3" y="638.1" width="5" height="70.9" fill="#ff3636"/><rect x="480.3" y="633.7" width="5" height="75.3" fill="#ff3636"/><rect x="489.3" y="644.2" width="5" height="64.8" fill="#ff3636"/><rect x="498.3" y="641.2" width="5" height="67.8" fill="#54ffff"/><rect x="507.3" y="639.2" width="5" height="69.8" fill="#ff3636"/><rect x="516.3" y="642.2" width="5" height="66.8" fill="#54ffff"/><rect x="525.3" y="643.6" width="5" height="65.4" fill="#ff3636"/><rect x="534.3" y="642.2" width="5" height="66.8" fill="#ff3636"/><rect x="543.3" y="653.4" width="5" height="55.6" fill="#54ffff"/><rect x="552.3" y="651.3" width="5" height="57.7" fill="#ff3636"/><rect x="561.3" y="649.3" width="5" height="59.7" fill="#ff3636"/><rect x="570.3" y="630.6" width="5" height="78.4" fill="#ff3636"/><rect x="579.3" y="639.8" width="5" height="69.2" fill="#54ffff"/><rect x="588.3" y="650.3" width="5" height="58.7" fill="#54ffff"/><rect x="597.3" y="647.3" width="5" height="61.7" fill="#54ffff"/><rect x="606.3" y="643.6" width="5" height="65.4" fill="#54ffff"/><rect x="615.3" y="648.7" width="5" height="60.3" fill="#ff3636"/><rect x="624.3" y="648.7" width="5" height="60.3" fill="#ff3636"/><rect x="633.3" y="648.7" width="5" height="60.3" fill="#54ffff"/><rect x="642.3" y="650.3" width="5" height="58.7" fill="#54ffff"/><rect x="651.3" y="648.7" width="5" height="60.3" fill="#ff3636"/><rect x="660.3" y="648.7" width="5" height="60.3" fill="#54ffff"/><rect x="669.3" y="649.3" width="5" height="59.7" fill="#54ffff"/><rect x="678.3" y="656.0" width="5" height="53.0" fill="#54ffff"/><rect x="687.3" y="645.9" width="5" height="63.1" fill="#ff3636"/><rect x="696.3" y="651.3" width="5" height="57.7" fill="#54ffff"/><rect x="705.3" y="656.0" width="5" height="53.0" fill="#54ffff"/><rect x="714.3" y="641.2" width="5" height="67.8" fill="#ff3636"/><rect x="723.3" y="626.0" width="5" height="83.0" fill="#ff3636"/><rect x="732.3" y="646.3" width="5" height="62.7" fill="#54ffff"/><rect x="741.3" y="617.2" width="5" height="91.8" fill="#ff3636"/><rect x="750.3" y="643.8" width="5" height="65.2" fill="#ff3636"/><rect x="759.3" y="627.6" width="5" height="81.4" fill="#ff3636"/><rect x="768.3" y="636.7" width="5" height="72.3" fill="#54ffff"/><rect x="777.3" y="632.0" width="5" height="77.0" fill="#ff3636"/><rect x="786.3" y="621.5" width="5" height="87.5" fill="#54ffff"/><rect x="795.3" y="641.2" width="5" height="67.8" fill="#ff3636"/><rect x="804.3" y="642.6" width="5" height="66.4" fill="#ff3636"/><rect x="813.3" y="594.5" width="5" height="114.5" fill="#54ffff"/><rect x="822.3" y="609.7" width="5" height="99.3" fill="#ff3636"/><rect x="831.3" y="639.8" width="5" height="69.2" fill="#54ffff"/><rect x="840.3" y="639.8" width="5" height="69.2" fill="#54ffff"/><rect x="849.3" y="633.7" width="5" height="75.3" fill="#54ffff"/><rect x="858.3" y="635.1" width="5" height="73.9" fill="#54ffff"/><rect x="867.3" y="623.3" width="5" height="85.7" fill="#ff3636"/><rect x="876.3" y="585.8" width="5" height="123.2" fill="#ff3636"/><rect x="885.3" y="605.3" width="5" height="103.7" fill="#54ffff"/><rect x="894.3" y="615.8" width="5" height="93.2" fill="#ff3636"/><rect x="903.3" y="614.4" width="5" height="94.6" fill="#ff3636"/><rect x="912.3" y="615.8" width="5" height="93.2" fill="#54ffff"/><rect x="921.3" y="630.6" width="5" height="78.4" fill="#54ffff"/><rect x="930.3" y="612.8" width="5" height="96.2" fill="#ff3636"/><rect x="939.3" y="603.6" width="5" height="105.4" fill="#ff3636"/><rect x="948.3" y="591.9" width="5" height="117.1" fill="#54ffff"/><rect x="957.3" y="578.3" width="5" height="130.7" fill="#ff3636"/><rect x="966.3" y="597.5" width="5" height="111.5" fill="#54ffff"/><rect x="975.3" y="614.4" width="5" height="94.6" fill="#54ffff"/><rect x="984.3" y="607.7" width="5" height="101.3" fill="#54ffff"/><rect x="993.3" y="615.8" width="5" height="93.2" fill="#54ffff"/><rect x="1002.3" y="620.3" width="5" height="88.7" fill="#54ffff"/><rect x="1011.3" y="606.7" width="5" height="102.3" fill="#ff3636"/><rect x="1020.3" y="564.7" width="5" height="144.3" fill="#ff3636"/><rect x="1029.3" y="570.6" width="5" height="138.4" fill="#54ffff"/><rect x="1038.3" y="589.4" width="5" height="119.6" fill="#ff3636"/><rect x="1047.3" y="569.1" width="5" height="139.9" fill="#ff3636"/><rect x="1056.3" y="574.2" width="5" height="134.8" fill="#ff3636"/><rect x="1065.3" y="584.4" width="5" height="124.6" fill="#54ffff"/><rect x="1074.3" y="602.0" width="5" height="107.0" fill="#ff3636"/><rect x="1083.3" y="621.9" width="5" height="87.1" fill="#54ffff"/><rect x="1092.3" y="597.5" width="5" height="111.5" fill="#54ffff"/><rect x="1101.3" y="630.6" width="5" height="78.4" fill="#54ffff"/><rect x="1110.3" y="636.7" width="5" height="72.3" fill="#54ffff"/><rect x="1119.3" y="622.9" width="5" height="86.1" fill="#ff3636"/><rect x="1128.3" y="617.4" width="5" height="91.6" fill="#54ffff"/><rect x="1137.3" y="628.0" width="5" height="81.0" fill="#ff3636"/><rect x="1146.3" y="588.8" width="5" height="120.2" fill="#ff3636"/><rect x="1155.3" y="611.3" width="5" height="97.7" fill="#ff3636"/><rect x="1164.3" y="618.9" width="5" height="90.1" fill="#ff3636"/><rect x="1173.3" y="626.0" width="5" height="83.0" fill="#54ffff"/><rect x="1182.3" y="644.2" width="5" height="64.8" fill="#54ffff"/><rect x="1191.3" y="642.6" width="5" height="66.4" fill="#54ffff"/><rect x="1200.3" y="648.7" width="5" height="60.3" fill="#ff3636"/><rect x="1209.3" y="648.7" width="5" height="60.3" fill="#54ffff"/><rect x="1218.3" y="621.5" width="5" height="87.5" fill="#ff3636"/><rect x="1227.3" y="623.3" width="5" height="85.7" fill="#54ffff"/><rect x="1236.3" y="639.8" width="5" height="69.2" fill="#ff3636"/><rect x="1245.3" y="639.8" width="5" height="69.2" fill="#54ffff"/><rect x="1254.3" y="645.7" width="5" height="63.3" fill="#54ffff"/><rect x="1263.3" y="639.8" width="5" height="69.2" fill="#54ffff"/><rect x="1272.3" y="641.2" width="5" height="67.8" fill="#54ffff"/><rect x="1281.3" y="651.3" width="5" height="57.7" fill="#ff3636"/><rect x="1290.3" y="626.0" width="5" height="83.0" fill="#ff3636"/><rect x="1299.3" y="645.7" width="5" height="63.3" fill="#54ffff"/><rect x="1308.3" y="629.0" width="5" height="80.0" fill="#54ffff"/><rect x="1317.3" y="639.8" width="5" height="69.2" fill="#ff3636"/><rect x="1326.3" y="644.2" width="5" height="64.8" fill="#54ffff"/><rect x="1335.3" y="639.8" width="5" height="69.2" fill="#ff3636"/><rect x="1344.3" y="611.1" width="5" height="97.9" fill="#ff3636"/><rect x="1353.3" y="605.3" width="5" height="103.7" fill="#ff3636"/><rect x="1362.3" y="617.2" width="5" height="91.8" fill="#54ffff"/><rect x="1371.3" y="597.5" width="5" height="111.5" fill="#ff3636"/><rect x="1380.3" y="615.8" width="5" height="93.2" fill="#54ffff"/><rect x="1389.3" y="622.9" width="5" height="86.1" fill="#ff3636"/><rect x="1398.3" y="624.5" width="5" height="84.5" fill="#54ffff"/><rect x="1407.3" y="617.8" width="5" height="91.2" fill="#ff3636"/><rect x="1416.3" y="620.9" width="5" height="88.1" fill="#ff3636"/><rect x="1425.3" y="615.8" width="5" height="93.2" fill="#54ffff"/><rect x="1434.3" y="597.5" width="5" height="111.5" fill="#ff3636"/>
<polyline points="5.8,630.0 14.8,627.2 23.8,626.7 32.8,626.9 41.8,629.8 50.8,631.5 59.8,634.5 68.8,634.5 77.8,632.8 86.8,634.4 95.8,635.6 104.8,637.5 113.8,638.7 122.8,637.8 131.8,631.2 140.8,629.7 149.8,627.8 158.8,627.8 167.8,628.5 176.8,627.4 185.8,626.5 194.8,626.6 203.8,626.1 212.8,626.5 221.8,631.6 230.8,632.8 239.8,634.4 248.8,633.9 257.8,633.9 266.8,634.3 275.8,634.6 284.8,633.0 293.8,633.4 302.8,635.0 311.8,637.2 320.8,637.5 329.8,638.2 338.8,637.6 347.8,634.6 356.8,628.3 365.8,625.9 374.8,624.6 383.8,623.0 392.8,620.5 401.8,619.8 410.8,618.0 419.8,614.6 428.8,615.8 437.8,618.3 446.8,622.9 455.8,624.2 464.8,625.1 473.8,626.5 482.8,627.8 491.8,628.2 500.8,630.1 509.8,633.2 518.8,634.0 527.8,634.9 536.8,637.0 545.8,639.8 554.8,642.9 563.8,644.0 572.8,643.7 581.8,643.3 590.8,644.2 599.8,645.0 608.8,645.1 617.8,645.6 626.8,646.3 635.8,645.8 644.8,645.7 653.8,645.7 662.8,647.5 671.8,648.4 680.8,649.0 689.8,648.9 698.8,649.6 707.8,650.4 716.8,649.6 725.8,647.3 734.8,646.9 743.8,643.8 752.8,643.3 761.8,641.1 770.8,639.2 779.8,637.8 788.8,634.8 797.8,633.4 806.8,633.5 815.8,630.3 824.8,626.7 833.8,628.9 842.8,628.5 851.8,629.1 860.8,629.0 869.8,628.1 878.8,624.5 887.8,621.0 896.8,618.3 905.8,620.3 914.8,620.9 923.8,620.0 932.8,617.3 941.8,614.2 950.8,609.9 959.8,605.4 968.8,606.6 977.8,607.5 986.8,606.7 995.8,606.8 1004.8,607.3 1013.8,604.9 1022.8,600.1 1031.8,596.8 1040.8,596.5 1049.8,595.6 1058.8,593.3 1067.8,590.3 1076.8,589.7 1085.8,590.3 1094.8,588.0 1103.8,590.4 1112.8,597.6 1121.8,602.9 1130.8,605.7 1139.8,611.6 1148.8,613.0 1157.8,615.7 1166.8,617.4 1175.8,617.8 1184.8,622.5 1193.8,623.7 1202.8,624.9 1211.8,627.5 1220.8,627.9 1229.8,627.4 1238.8,632.5 1247.8,635.4 1256.8,638.0 1265.8,639.4 1274.8,639.1 1283.8,640.0 1292.8,637.7 1301.8,637.4 1310.8,638.2 1319.8,639.8 1328.8,640.2 1337.8,640.2 1346.8,636.8 1355.8,633.3 1364.8,630.9 1373.8,625.6 1382.8,624.5 1391.8,622.3 1400.8,621.8 1409.8,619.6 1418.8,617.3 1427.8,614.9 1436.8,613.5" fill="none" stroke="#ffff00" stroke-width="1.4" stroke-linejoin="round"/>
<polyline points="5.8,631.5 14.8,631.5 23.8,629.6 32.8,628.6 41.8,630.6 50.8,632.6 59.8,636.4 68.8,637.7 77.8,637.0 86.8,638.1 95.8,638.5 104.8,638.5 113.8,639.8 122.8,638.6 131.8,624.3 140.8,620.9 149.8,617.1 158.8,615.8 167.8,618.5 176.8,630.4 185.8,632.1 194.8,636.2 203.8,636.4 212.8,634.6 221.8,632.8 230.8,633.5 239.8,632.5 248.8,631.3 257.8,633.1 266.8,635.9 275.8,635.7 284.8,633.5 293.8,635.4 302.8,637.0 311.8,638.5 320.8,639.2 329.8,643.0 338.8,639.7 347.8,632.2 356.8,618.1 365.8,612.5 374.8,606.3 383.8,606.4 392.8,608.9 401.8,621.5 410.8,623.5 419.8,623.0 428.8,625.2 437.8,627.8 446.8,624.2 455.8,624.8 464.8,627.2 473.8,627.8 482.8,627.8 491.8,632.3 500.8,635.5 509.8,639.3 518.8,640.1 527.8,642.1 536.8,641.7 545.8,644.1 554.8,646.5 563.8,648.0 572.8,645.4 581.8,644.9 590.8,644.3 599.8,643.5 608.8,642.3 617.8,645.9 626.8,647.7 635.8,647.4 644.8,648.0 653.8,649.0 662.8,649.0 671.8,649.1 680.8,650.6 689.8,649.7 698.8,650.2 707.8,651.7 716.8,650.1 725.8,644.1 734.8,644.2 743.8,637.3 752.8,634.9 761.8,632.2 770.8,634.3 779.8,631.5 788.8,632.3 797.8,631.8 806.8,634.8 815.8,626.4 824.8,621.9 833.8,625.6 842.8,625.3 851.8,623.5 860.8,631.6 869.8,634.3 878.8,623.5 887.8,616.6 896.8,613.1 905.8,608.9 914.8,607.4 923.8,616.4 932.8,617.9 941.8,615.4 950.8,610.9 959.8,603.4 968.8,596.8 977.8,597.1 986.8,598.0 995.8,602.7 1004.8,611.1 1013.8,613.0 1022.8,603.0 1031.8,595.6 1040.8,590.3 1049.8,580.1 1058.8,573.6 1067.8,577.5 1076.8,583.8 1085.8,590.3 1094.8,596.0 1103.8,607.3 1112.8,617.7 1121.8,621.9 1130.8,621.0 1139.8,627.1 1148.8,618.8 1157.8,613.7 1166.8,612.9 1175.8,614.6 1184.8,617.8 1193.8,628.6 1202.8,636.1 1211.8,642.0 1220.8,641.1 1229.8,637.0 1238.8,636.4 1247.8,634.6 1256.8,634.0 1265.8,637.7 1274.8,641.3 1283.8,643.6 1292.8,640.8 1301.8,640.8 1310.8,638.6 1319.8,638.4 1328.8,636.9 1337.8,639.7 1346.8,632.8 1355.8,628.0 1364.8,623.5 1373.8,614.2 1382.8,609.4 1391.8,611.7 1400.8,615.6 1409.8,615.7 1418.8,620.4 1427.8,620.4 1436.8,615.3" fill="none" stroke="#f0f0f0" stroke-width="1.4" stroke-linejoin="round"/>
<text transform="translate(1.9,554.5) scale(0.86,1)" x="0" y="0" font-size="18" fill="#e4e4e4" stroke="#000" stroke-width="0.25" textLength="235.1" lengthAdjust="spacing">VOLUME: 190767232.00</text>
<text transform="translate(212.1,554.5) scale(0.86,1)" x="0" y="0" font-size="18" fill="#e4e4e4" stroke="#000" stroke-width="0.25" textLength="189.3" lengthAdjust="spacing">MA5: 161525584.00</text>
<text transform="translate(383.6,554.5) scale(0.86,1)" x="0" y="0" font-size="18" fill="#f4f400" stroke="#000" stroke-width="0.25" textLength="201.0" lengthAdjust="spacing">MA10: 164423840.00</text>
<polyline points="5.8,820.5 14.8,828.7 23.8,834.5 32.8,837.2 41.8,836.0 50.8,830.5 59.8,826.0 68.8,822.0 77.8,821.6 86.8,824.3 95.8,824.3 104.8,827.5 113.8,831.0 122.8,835.3 131.8,839.1 140.8,841.7 149.8,845.3 158.8,846.6 167.8,848.3 176.8,849.3 185.8,850.9 194.8,853.2 203.8,851.9 212.8,851.8 221.8,849.9 230.8,848.7 239.8,849.3 248.8,847.4 257.8,839.4 266.8,828.6 275.8,821.6 284.8,811.9 293.8,802.9 302.8,796.3 311.8,792.7 320.8,791.7 329.8,797.0 338.8,796.7 347.8,792.6 356.8,787.4 365.8,782.5 374.8,780.3 383.8,780.0 392.8,780.9 401.8,781.6 410.8,786.0 419.8,794.3 428.8,805.0 437.8,816.0 446.8,822.0 455.8,826.6 464.8,827.1 473.8,825.7 482.8,824.1 491.8,819.6 500.8,819.7 509.8,822.1 518.8,827.7 527.8,830.9 536.8,830.0 545.8,829.0 554.8,826.2 563.8,822.5 572.8,813.8 581.8,804.8 590.8,797.5 599.8,794.6 608.8,797.5 617.8,802.9 626.8,805.3 635.8,811.6 644.8,819.7 653.8,826.3 662.8,833.7 671.8,839.4 680.8,843.9 689.8,843.9 698.8,842.6 707.8,844.0 716.8,839.2 725.8,830.1 734.8,820.1 743.8,808.8 752.8,799.6 761.8,792.3 770.8,787.7 779.8,783.0 788.8,785.5 797.8,792.9 806.8,802.1 815.8,812.1 824.8,819.7 833.8,827.1 842.8,834.2 851.8,839.2 860.8,844.4 869.8,845.4 878.8,839.7 887.8,832.5 896.8,824.9 905.8,818.0 914.8,812.4 923.8,811.0 932.8,810.3 941.8,808.1 950.8,806.8 959.8,800.9 968.8,794.3 977.8,788.8 986.8,785.6 995.8,784.0 1004.8,786.4 1013.8,789.8 1022.8,791.0 1031.8,794.2 1040.8,792.8 1049.8,790.2 1058.8,785.6 1067.8,786.3 1076.8,788.9 1085.8,793.0 1094.8,802.8 1103.8,813.4 1112.8,823.2 1121.8,829.0 1130.8,835.1 1139.8,838.5 1148.8,832.4 1157.8,821.5 1166.8,811.5 1175.8,807.7 1184.8,807.2 1193.8,810.5 1202.8,814.3 1211.8,816.7 1220.8,815.9 1229.8,818.9 1238.8,822.2 1247.8,826.5 1256.8,832.7 1265.8,837.3 1274.8,841.0 1283.8,843.1 1292.8,844.0 1301.8,844.4 1310.8,845.3 1319.8,845.3 1328.8,846.7 1337.8,848.5 1346.8,841.7 1355.8,830.0 1364.8,818.2 1373.8,809.0 1382.8,803.0 1391.8,797.3 1400.8,794.0 1409.8,788.9 1418.8,783.8 1427.8,783.2 1436.8,780.2" fill="none" stroke="#ffff00" stroke-width="1.4" stroke-linejoin="round"/>
<polyline points="5.8,839.5 14.8,847.7 23.8,843.3 32.8,842.3 41.8,835.5 50.8,825.0 59.8,815.0 68.8,812.0 77.8,820.0 86.8,830.0 95.8,824.3 104.8,833.0 113.8,838.5 122.8,844.0 131.8,846.5 140.8,846.9 149.8,852.6 158.8,849.2 167.8,851.8 176.8,851.2 185.8,854.2 194.8,857.9 203.8,849.1 212.8,851.5 221.8,846.1 230.8,846.3 239.8,850.5 248.8,843.6 257.8,823.4 266.8,807.1 275.8,807.4 284.8,792.5 293.8,785.0 302.8,782.9 311.8,785.6 320.8,789.7 329.8,807.4 338.8,796.2 347.8,784.3 356.8,777.0 365.8,772.7 374.8,775.8 383.8,779.4 392.8,782.8 401.8,782.9 410.8,794.9 419.8,810.7 428.8,826.5 437.8,838.0 446.8,833.9 455.8,835.8 464.8,828.0 473.8,822.8 482.8,820.9 491.8,810.6 500.8,819.9 509.8,826.8 518.8,838.8 527.8,837.5 536.8,828.2 545.8,826.9 554.8,820.6 563.8,815.2 572.8,796.4 581.8,786.9 590.8,782.8 599.8,788.8 608.8,803.3 617.8,813.8 626.8,810.0 635.8,824.2 644.8,835.8 653.8,839.6 662.8,848.4 671.8,850.9 680.8,852.8 689.8,844.0 698.8,840.0 707.8,846.7 716.8,829.5 725.8,811.9 734.8,800.1 743.8,786.4 752.8,781.1 761.8,777.8 770.8,778.6 779.8,773.4 788.8,790.6 797.8,807.8 806.8,820.3 815.8,832.2 824.8,835.0 833.8,841.7 842.8,848.4 851.8,849.2 860.8,854.8 869.8,847.3 878.8,828.4 887.8,818.1 896.8,809.8 905.8,804.2 914.8,801.2 923.8,808.1 932.8,808.8 941.8,803.8 950.8,804.2 959.8,789.1 968.8,781.2 977.8,777.7 986.8,779.3 995.8,780.7 1004.8,791.3 1013.8,796.6 1022.8,793.4 1031.8,800.6 1040.8,790.1 1049.8,785.0 1058.8,776.4 1067.8,787.6 1076.8,794.3 1085.8,801.0 1094.8,822.4 1103.8,834.7 1112.8,842.9 1121.8,840.4 1130.8,847.4 1139.8,845.3 1148.8,820.1 1157.8,799.7 1166.8,791.4 1175.8,800.3 1184.8,806.2 1193.8,817.0 1202.8,822.1 1211.8,821.5 1220.8,814.1 1229.8,825.0 1238.8,828.8 1247.8,835.1 1256.8,845.0 1265.8,846.6 1274.8,848.4 1283.8,847.4 1292.8,845.7 1301.8,845.1 1310.8,847.2 1319.8,845.2 1328.8,849.5 1337.8,852.1 1346.8,828.2 1355.8,806.6 1364.8,794.6 1373.8,790.7 1382.8,790.9 1391.8,785.8 1400.8,787.3 1409.8,778.9 1418.8,773.5 1427.8,781.9 1436.8,774.3" fill="none" stroke="#f0f0f0" stroke-width="1.4" stroke-linejoin="round"/>
<polyline points="5.8,877.5 14.8,885.7 23.8,860.9 32.8,852.5 41.8,834.5 50.8,814.0 59.8,793.0 68.8,792.0 77.8,816.8 86.8,841.4 95.8,824.3 104.8,844.0 113.8,853.5 122.8,861.3 131.8,861.4 140.8,857.3 149.8,867.2 158.8,854.5 167.8,858.7 176.8,855.0 185.8,860.7 194.8,867.1 203.8,843.7 212.8,851.1 221.8,838.5 230.8,841.6 239.8,852.9 248.8,836.0 257.8,791.5 266.8,763.9 275.8,779.2 284.8,753.8 293.8,749.3 302.8,756.3 311.8,771.5 320.8,785.8 329.8,828.3 338.8,795.1 347.8,767.7 356.8,756.3 365.8,753.2 374.8,766.9 383.8,778.3 392.8,786.5 401.8,785.6 410.8,812.6 419.8,843.7 428.8,869.6 437.8,882.0 446.8,857.7 455.8,854.3 464.8,829.9 473.8,817.2 482.8,814.5 491.8,792.6 500.8,820.5 509.8,836.4 518.8,861.2 527.8,850.7 536.8,824.6 545.8,822.6 554.8,809.5 563.8,800.4 572.8,761.7 581.8,750.9 590.8,753.4 599.8,777.2 608.8,814.9 617.8,835.7 626.8,819.5 635.8,849.4 644.8,868.1 653.8,866.2 662.8,877.9 671.8,874.0 680.8,870.6 689.8,844.2 698.8,834.7 707.8,852.1 716.8,810.3 725.8,775.4 734.8,760.1 743.8,741.5 752.8,744.2 761.8,748.8 770.8,760.3 779.8,754.3 788.8,800.8 797.8,837.4 806.8,856.8 815.8,872.4 824.8,865.5 833.8,871.0 842.8,876.8 851.8,869.2 860.8,875.6 869.8,851.2 878.8,805.8 887.8,789.2 896.8,779.4 905.8,776.6 914.8,778.8 923.8,802.4 932.8,806.0 941.8,795.2 950.8,799.0 959.8,765.6 968.8,754.8 977.8,755.5 986.8,766.8 995.8,774.2 1004.8,801.1 1013.8,810.2 1022.8,798.2 1031.8,813.4 1040.8,784.5 1049.8,774.6 1058.8,757.9 1067.8,790.2 1076.8,804.9 1085.8,817.2 1094.8,861.6 1103.8,877.2 1112.8,882.2 1121.8,863.4 1130.8,872.0 1139.8,858.8 1148.8,795.6 1157.8,756.2 1166.8,751.3 1175.8,785.4 1184.8,804.1 1193.8,829.9 1202.8,837.6 1211.8,831.1 1220.8,810.6 1229.8,837.1 1238.8,842.1 1247.8,852.3 1256.8,869.6 1265.8,865.2 1274.8,863.1 1283.8,855.9 1292.8,849.1 1301.8,846.7 1310.8,851.1 1319.8,845.0 1328.8,855.0 1337.8,859.3 1346.8,801.2 1355.8,759.7 1364.8,747.3 1373.8,754.1 1382.8,766.7 1391.8,763.0 1400.8,774.1 1409.8,758.9 1418.8,752.9 1427.8,779.5 1436.8,762.5" fill="none" stroke="#ff00ff" stroke-width="1.4" stroke-linejoin="round"/>
<text transform="translate(1.9,730) scale(0.86,1)" x="0" y="0" font-size="18" fill="#d0d0d0" stroke="#000" stroke-width="0.25" textLength="101.0" lengthAdjust="spacing">KDJ(9,3,3)</text>
<text transform="translate(96.5,730) scale(0.86,1)" x="0" y="0" font-size="18" fill="#d0d0d0" stroke="#000" stroke-width="0.25" textLength="77.2" lengthAdjust="spacing">K: 85.27</text>
<text transform="translate(171.1,730) scale(0.86,1)" x="0" y="0" font-size="18" fill="#f4f400" stroke="#000" stroke-width="0.25" textLength="79.5" lengthAdjust="spacing">D: 80.39</text>
<text transform="translate(247.1,730) scale(0.86,1)" x="0" y="0" font-size="18" fill="#f400f4" stroke="#000" stroke-width="0.25" textLength="74.5" lengthAdjust="spacing">J: 95.04</text>
</svg></body></html>
